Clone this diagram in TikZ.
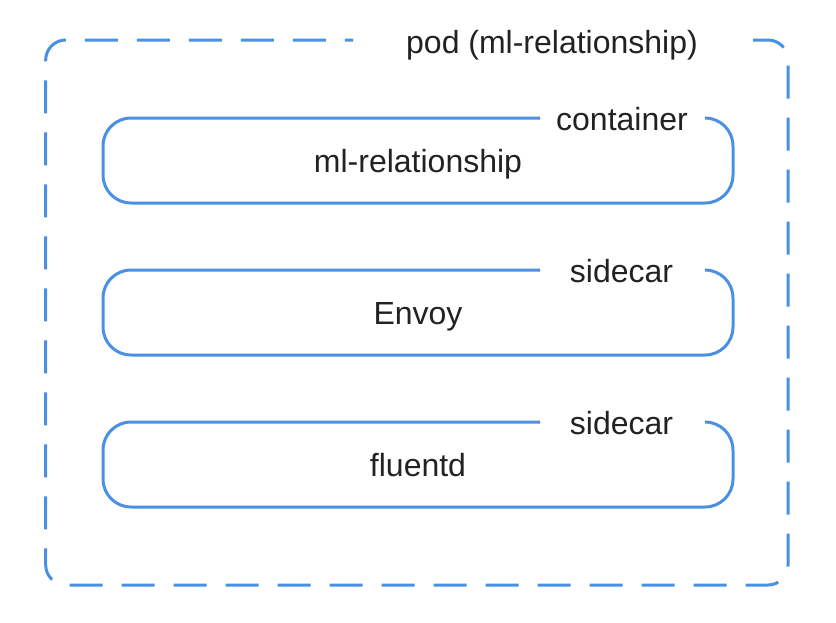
\documentclass[tikz,border=0pt]{standalone}
\usepackage{fontspec}
\setmainfont{Liberation Sans}
\definecolor{boxblue}{HTML}{4A90E2}
\definecolor{txtcol}{HTML}{222222}
\begin{document}
\begin{tikzpicture}[x=1pt,y=-1pt,
  frame/.style={draw=boxblue,line width=3pt},
  podframe/.style={frame,dash pattern=on 33pt off 19pt,rounded corners=20pt},
  ctrframe/.style={frame,rounded corners=28pt},
  lbl/.style={anchor=base,inner sep=0pt,text=txtcol,font=\fontsize{32}{38}\selectfont}]
\useasboundingbox (0,0) rectangle (836,622);
% pod
\node[lbl] (podlbl) at (552,53) {pod (ml-relationship)};
\draw[podframe] (753,40) -- (788,40) -- (788,585) -- (45.7,585) -- (45.7,40) -- (353,40);
% container
\node[lbl] (ctrlbl) at (622,130) {container};
\node[lbl] (ctrtxt) at (418,172) {ml-relationship};
\draw[ctrframe] (705,118) -- (733,118) -- (733,203) -- (103,203) -- (103,118) -- (540,118);
% sidecar Envoy
\node[lbl] (envlbl) at (621.5,282) {sidecar};
\node[lbl] (envtxt) at (418,324) {Envoy};
\draw[ctrframe] (705,270) -- (733,270) -- (733,355) -- (103,355) -- (103,270) -- (540,270);
% sidecar fluentd
\node[lbl] (flulbl) at (621.5,434) {sidecar};
\node[lbl] (flutxt) at (418,476) {fluentd};
\draw[ctrframe] (705,422) -- (733,422) -- (733,507) -- (103,507) -- (103,422) -- (540,422);
\end{tikzpicture}
\end{document}
